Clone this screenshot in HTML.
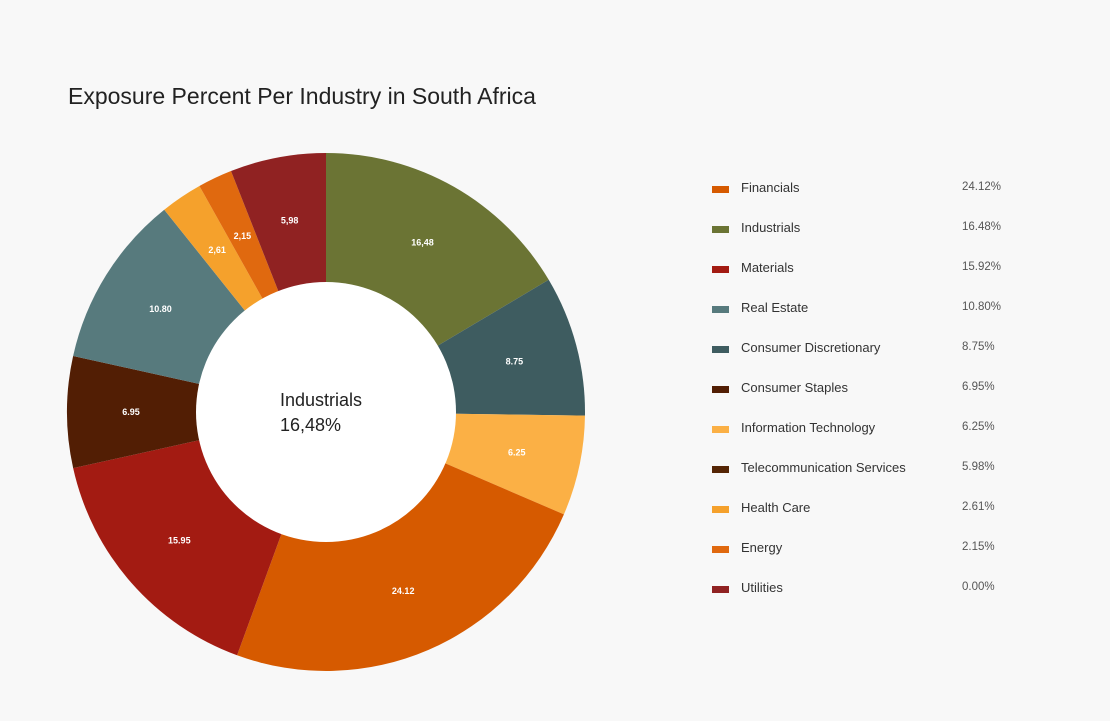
<!DOCTYPE html>
<html><head><meta charset="utf-8"><style>
body{margin:0;width:1110px;height:721px;background:#f8f8f8;font-family:"Liberation Sans",sans-serif;overflow:hidden;position:relative}
.title{position:absolute;left:68px;top:83px;font-size:23px;color:#222}
.lg{position:absolute;left:712px;font-size:13px;color:#333}
.sw{position:absolute;left:0;top:-3px;width:17px;height:7px}
.lt{position:absolute;left:29px;top:-9px;white-space:nowrap}
.lv{position:absolute;left:250px;top:-8px;font-size:11.5px;color:#555;white-space:nowrap}
</style></head><body>
<div class="title">Exposure Percent Per Industry in South Africa</div>
<svg id="donut" width="1110" height="721" style="position:absolute;left:0;top:0"></svg>
<div id="legend"></div>
<script>
const sliceNames=["Industrials","Consumer Discretionary","Information Technology","Financials","Materials","Consumer Staples","Real Estate","Health Care","Energy","Telecommunication Services"];
const sliceValues=[16.48,8.75,6.25,24.12,15.95,6.95,10.80,2.61,2.15,5.98];
const sliceLabels=["16,48","8.75","6.25","24.12","15.95","6.95","10.80","2,61","2,15","5,98"];
const sliceColors=["#6b7434","#3e5c60","#fbb045","#d65a00","#a31b12","#521e04","#577a7d","#f5a12c","#e0690f","#902222"];
const legendNames=["Financials","Industrials","Materials","Real Estate","Consumer Discretionary","Consumer Staples","Information Technology","Telecommunication Services","Health Care","Energy","Utilities"];
const legendValues=["24.12%","16.48%","15.92%","10.80%","8.75%","6.95%","6.25%","5.98%","2.61%","2.15%","0.00%"];
const legendColors=["#d65a00","#6b7434","#a31b12","#577a7d","#3e5c60","#521e04","#fbb045","#552505","#f5a12c","#e0690f","#902222"];
const cx=326,cy=412,R=259,r=130,NS="http://www.w3.org/2000/svg";
const svg=document.getElementById('donut');
const total=sliceValues.reduce((a,b)=>a+b,0);
function pt(rad,a){return [cx+rad*Math.sin(a),cy-rad*Math.cos(a)];}
let acc=0;
sliceValues.forEach((v,i)=>{
 const a0=acc/total*2*Math.PI;acc+=v;const a1=acc/total*2*Math.PI;
 const [x0,y0]=pt(R,a0),[x1,y1]=pt(R,a1);const large=(a1-a0)>Math.PI?1:0;
 const p=document.createElementNS(NS,'path');
 p.setAttribute('d',`M${cx},${cy} L${x0},${y0} A${R},${R} 0 ${large} 1 ${x1},${y1} Z`);
 p.setAttribute('fill',sliceColors[i]);
 
 
 svg.appendChild(p);
 const am=(a0+a1)/2;const [lx,ly]=pt(195,am);
 const t=document.createElementNS(NS,'text');
 t.setAttribute('x',lx);t.setAttribute('y',ly+3);t.setAttribute('text-anchor','middle');
 t.setAttribute('fill','#fff');t.setAttribute('font-size','9');t.setAttribute('font-weight','bold');
 t.setAttribute('font-family','Liberation Sans, sans-serif');
 t.textContent=sliceLabels[i];
 
 
 svg.appendChild(t);
});
const hole=document.createElementNS(NS,'circle');
hole.setAttribute('cx',cx);hole.setAttribute('cy',cy);hole.setAttribute('r',r);hole.setAttribute('fill','#fff');


svg.appendChild(hole);
[["Industrials",406],["16,48%",431]].forEach(([s,y])=>{
 const t=document.createElementNS(NS,'text');
 t.setAttribute('x',280);t.setAttribute('y',y);t.setAttribute('font-size','18');t.setAttribute('fill','#222');
 t.setAttribute('font-family','Liberation Sans, sans-serif');t.textContent=s;
 
 
 svg.appendChild(t);
});
const lg=document.getElementById('legend');
legendNames.forEach((n,i)=>{
 const d=document.createElement('div');d.className='lg';d.style.top=(189+40*i)+'px';
 
 
 d.innerHTML=`<span class="sw" style="background:${legendColors[i]}"></span><span class="lt">${n}</span><span class="lv">${legendValues[i]}</span>`;
 lg.appendChild(d);
});
</script>
</body></html>
